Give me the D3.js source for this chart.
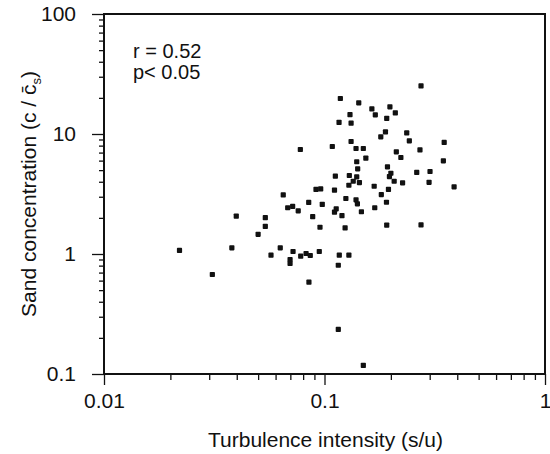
<!DOCTYPE html>
<html lang='en'>
<head>
   <meta charset='UTF-8'>
   <title>Sand concentration vs turbulence intensity</title>
   <script src='https://d3js.org/d3.v7.min.js'></script>
   <style>
      body { margin: 0; background: #fff; }
      svg text { font-family: 'Liberation Sans', Arial, Helvetica, sans-serif; fill: #111; }
   </style>
</head>
<body>
   <div id='chart'></div>
   <script>
      // turbulence intensity (s/u)
      const turbulence = [0.274, 0.118, 0.143, 0.164, 0.198, 0.2095, 0.170, 0.1305, 0.1915, 0.1164,
         0.132, 0.189, 0.236, 0.180, 0.2425, 0.132, 0.349, 0.1085, 0.139, 0.150,
         0.0777, 0.271, 0.2117, 0.222, 0.154, 0.346, 0.140, 0.193, 0.1414, 0.200,
         0.262, 0.301, 0.112, 0.1296, 0.197, 0.140, 0.135, 0.144, 0.207, 0.226,
         0.298, 0.129, 0.168, 0.387, 0.0915, 0.0961, 0.111, 0.195, 0.181, 0.125,
         0.139, 0.141, 0.191, 0.0848, 0.0977, 0.113, 0.111, 0.169, 0.147, 0.120,
         0.0884, 0.0954, 0.124, 0.1915, 0.274, 0.022, 0.031, 0.038, 0.0398, 0.050,
         0.0539, 0.0539, 0.0572, 0.063, 0.0681, 0.0717, 0.076, 0.0698, 0.0698, 0.072,
         0.078, 0.0825, 0.0862, 0.085, 0.0947, 0.1167, 0.1155, 0.129, 0.1155, 0.150, 0.065];
      // sand concentration (c / c_s)
      const concentration = [25.2, 19.76, 18.2, 16.2, 16.85, 15.0, 14.45, 14.5, 13.5, 12.5,
         12.3, 10.4, 10.2, 9.48, 8.78, 8.66, 8.5, 7.87, 7.57, 7.57,
         7.43, 7.38, 7.11, 6.37, 6.29, 5.98, 5.87, 5.33, 5.13, 4.71,
         4.78, 4.87, 4.45, 4.51, 4.42, 4.40, 4.04, 3.94, 4.04, 3.92,
         3.96, 3.74, 3.67, 3.63, 3.45, 3.49, 3.40, 3.45, 3.13, 2.90,
         2.83, 2.62, 2.70, 2.69, 2.59, 2.38, 2.23, 2.43, 2.25, 2.09,
         2.05, 1.67, 1.65, 1.74, 1.75, 1.07, 0.675, 1.126, 2.07, 1.46,
         2.01, 1.70, 0.977, 1.126, 2.43, 2.49, 2.29, 0.90, 0.833, 1.049,
         0.959, 1.01, 0.972, 0.582, 1.049, 0.977, 0.806, 0.977, 0.235, 0.118, 3.11];

      const xMajor = [0.01, 0.1, 1];
      const xMajorLabels = ['0.01', '0.1', '1'];
      const yMajor = [0.1, 1, 10, 100];
      const yMajorLabels = ['0.1', '1', '10', '100'];
      const statsLines = ['r = 0.52', 'p< 0.05'];

      const W = 550, H = 454;
      const m = { left: 104, right: 545, top: 14, bottom: 374 };

      const svg = d3.select('#chart').append('svg').attr('width', W).attr('height', H);

      const x = d3.scaleLog().domain([0.01, 1]).range([m.left, m.right]);
      const y = d3.scaleLog().domain([0.1, 100]).range([m.bottom, m.top]);

      const minors = (majors) => {
         const out = [];
         majors.slice(0, -1).forEach(v => { for (let k = 2; k <= 9; k++) out.push(v * k); });
         return out;
      };

      // minor ticks
      svg.append('g').attr('transform', `translate(0,${m.bottom})`)
         .call(d3.axisBottom(x).tickValues(minors(xMajor)).tickSize(6).tickSizeOuter(0).tickFormat(''))
         .call(g => g.select('.domain').remove());
      svg.append('g').attr('transform', `translate(${m.left},0)`)
         .call(d3.axisLeft(y).tickValues(minors(yMajor)).tickSize(5).tickSizeOuter(0).tickFormat(''))
         .call(g => g.select('.domain').remove());

      // major ticks + labels
      svg.append('g').attr('transform', `translate(0,${m.bottom})`)
         .call(d3.axisBottom(x).tickValues(xMajor).tickSize(11).tickPadding(8).tickSizeOuter(0)
            .tickFormat((d, i) => xMajorLabels[i]))
         .call(g => g.select('.domain').remove())
         .call(g => g.selectAll('text').attr('font-size', 21).attr('dy', '0.71em'));
      svg.append('g').attr('transform', `translate(${m.left},0)`)
         .call(d3.axisLeft(y).tickValues(yMajor).tickSize(12).tickPadding(16).tickSizeOuter(0)
            .tickFormat((d, i) => yMajorLabels[i]))
         .call(g => g.select('.domain').remove())
         .call(g => g.selectAll('text').attr('font-size', 21));

      svg.selectAll('.tick line').attr('stroke', '#111').attr('stroke-width', 1.3);

      // frame
      svg.append('rect')
         .attr('x', m.left).attr('y', m.top)
         .attr('width', m.right - m.left).attr('height', m.bottom - m.top)
         .attr('fill', 'none').attr('stroke', '#111').attr('stroke-width', 2);

      // points
      const pts = turbulence.map((t, i) => ({ t: t, c: concentration[i] }));
      svg.append('g').selectAll('rect').data(pts).enter().append('rect')
         .attr('x', d => x(d.t) - 2.6)
         .attr('y', d => y(d.c) - 2.6)
         .attr('width', 5.2).attr('height', 5.2)
         .attr('rx', 0.8)
         .attr('fill', '#111');

      // stats text
      svg.append('g').selectAll('text').data(statsLines).enter().append('text')
         .attr('x', 133)
         .attr('y', (d, i) => 58 + i * 21)
         .attr('font-size', 20)
         .text(d => d);

      // axis titles
      svg.append('text')
         .attr('x', (m.left + m.right) / 2 + 1)
         .attr('y', 447)
         .attr('text-anchor', 'middle')
         .attr('font-size', 21)
         .text('Turbulence intensity (s/u)');

      const yt = svg.append('text')
         .attr('transform', `translate(36,${(m.top + m.bottom) / 2}) rotate(-90)`)
         .attr('text-anchor', 'middle')
         .attr('font-size', 21);
      yt.append('tspan').text('Sand concentration (c / ');
      yt.append('tspan').text('c\u0304');
      yt.append('tspan').attr('font-size', 13).attr('dy', 5).text('s');
      yt.append('tspan').attr('dy', -5).text(')');
   </script>
</body>
</html>
